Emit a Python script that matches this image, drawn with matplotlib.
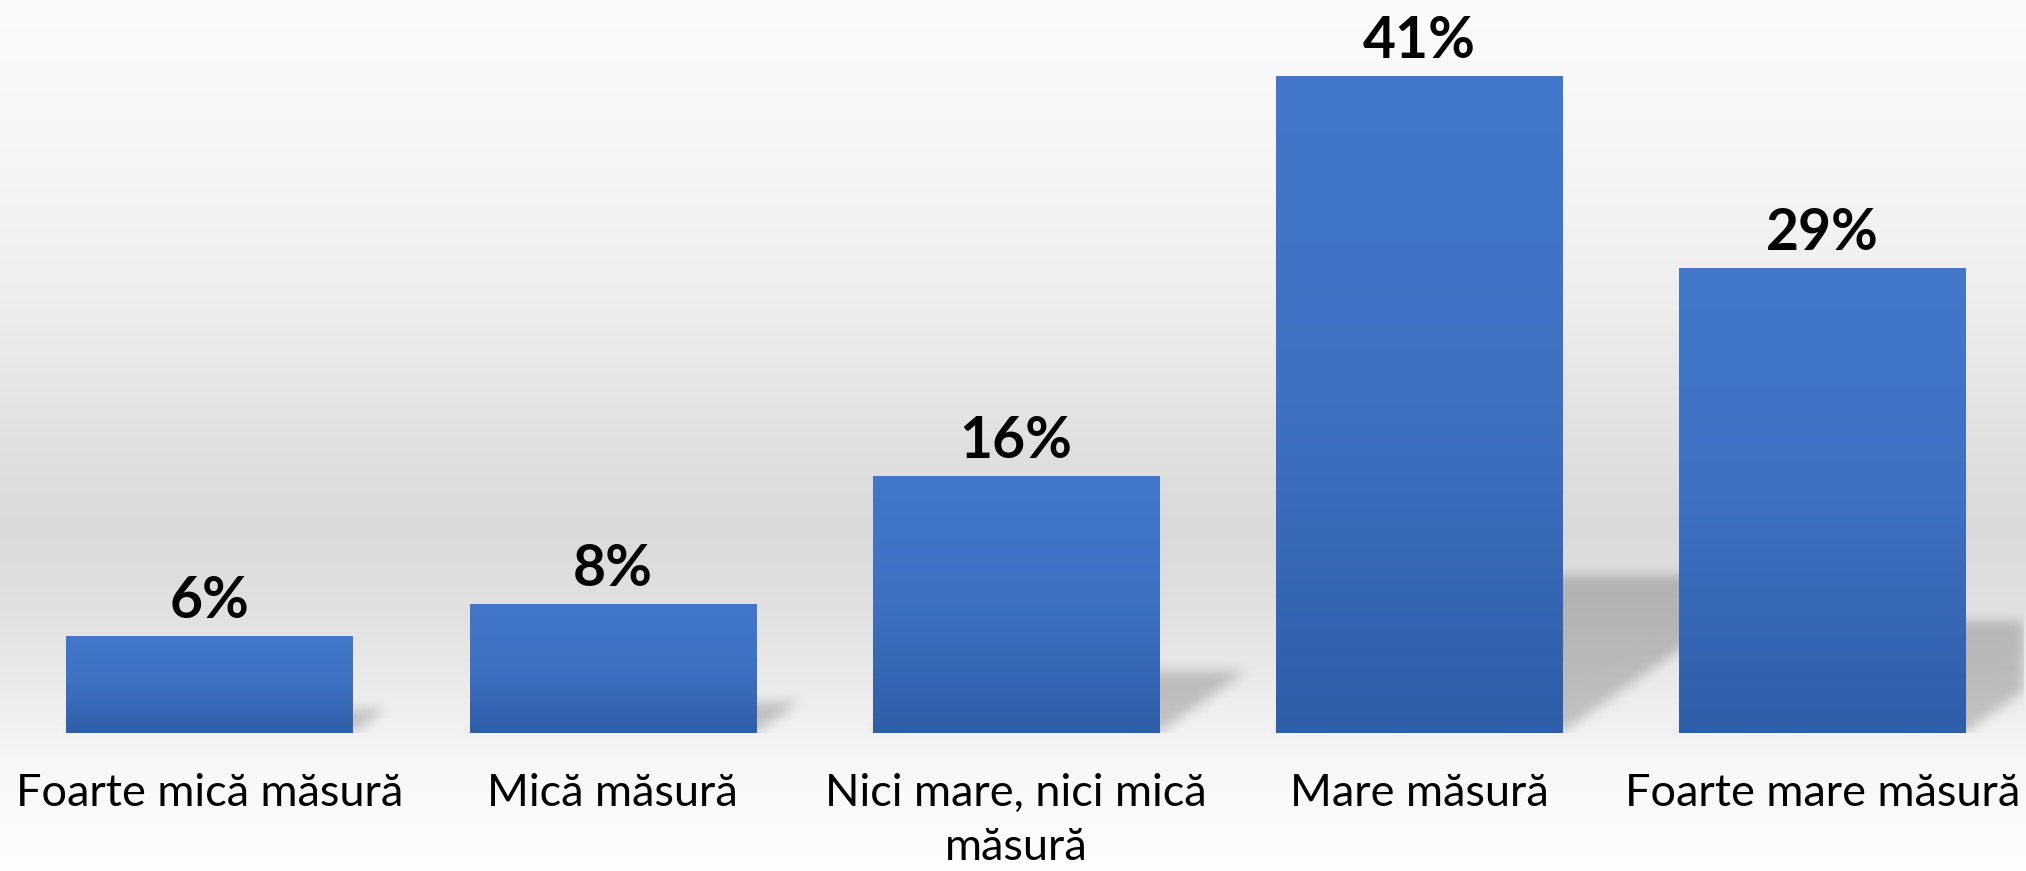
import numpy as np
import matplotlib
matplotlib.use("Agg")
import matplotlib.pyplot as plt

# data
categories = ["Foarte mică măsură", "Mică măsură", "Nici mare, nici mică\nmăsură",
              "Mare măsură", "Foarte mare măsură"]
values = [6, 8, 16, 41, 29]
value_labels = ["6%", "8%", "16%", "41%", "29%"]

W, H, DPI = 2026, 871, 100
fig = plt.figure(figsize=(W / DPI, H / DPI), dpi=DPI)

# background gradient (light - gray band - light)
bg = fig.add_axes([0, 0, 1, 1], zorder=-10)
stops_y = [0, 150, 300, 450, 530, 620, 733, 760, 871]
stops_v = [251, 246, 238, 224, 218, 226, 242, 247, 254]
yy = np.arange(H)
g = np.interp(yy, stops_y, stops_v) / 255.0
bg.imshow(np.repeat(g[:, None, None], 3, axis=2), aspect="auto", extent=(0, 1, 0, 1),
          origin="upper")
bg.set_axis_off()

# main axes
left_px, right_px, bottom_px, top_px = 8, 2024, 138, 13
ax = fig.add_axes([left_px / W, bottom_px / H, (right_px - left_px) / W,
                   (H - bottom_px - top_px) / H])
ax.set_facecolor("none")
xlim = (-0.5, len(values) - 0.5)
ylim = (0, 45)

bar_w = 0.71
x = np.arange(len(values))
bars = ax.bar(x, values, width=bar_w, color="#3d6ebf", zorder=3)

# soft perspective shadows behind bars
nx = right_px - left_px
ny = H - bottom_px - top_px
xs = np.linspace(xlim[0], xlim[1], nx)
ys = np.linspace(ylim[0], ylim[1], ny)
X, Y = np.meshgrid(xs, ys)
ppx = nx / (xlim[1] - xlim[0])
ppy = ny / (ylim[1] - ylim[0])
mask = np.zeros_like(X)
for b in bars:
    v = b.get_height()
    dy = 0.24 * v
    dx = 0.34 * v * ppy / ppx
    t = Y / dy
    inside = (Y <= dy) & (X >= b.get_x() + t * dx) & (X <= b.get_x() + b.get_width() + t * dx)
    mask = np.maximum(mask, inside.astype(float))

sig = 6
kx = np.arange(-3 * sig, 3 * sig + 1)
k = np.exp(-kx ** 2 / (2 * sig ** 2))
k /= k.sum()
mask = np.apply_along_axis(lambda r: np.convolve(r, k, mode="same"), 1, mask)
mask = np.apply_along_axis(lambda c: np.convolve(c, k, mode="same"), 0, mask)
shadow = np.zeros((ny, nx, 4))
shadow[..., 3] = 0.2 * mask
ax.imshow(shadow, extent=(xlim[0], xlim[1], ylim[0], ylim[1]), origin="lower",
          aspect="auto", zorder=1, interpolation="bilinear")

# bar gradient fill
top_c = np.array([66, 119, 202]) / 255
mid_c = np.array([63, 113, 194]) / 255
bot_c = np.array([47, 94, 168]) / 255
n = 256
tt = np.linspace(0, 1, n)  # 0 bottom, 1 top
grad = np.array([np.interp(tt, [0, 0.5, 1], [bot_c[i], mid_c[i], top_c[i]]) for i in range(3)]).T
grad_img = grad[:, None, :]
for b in bars:
    ax.imshow(grad_img, extent=(b.get_x(), b.get_x() + b.get_width(), 0, b.get_height()),
              origin="lower", aspect="auto", zorder=4)

# value labels
for b, lab in zip(bars, value_labels):
    ax.annotate(lab, (b.get_x() + b.get_width() / 2, b.get_height()),
                xytext=(0, 14), textcoords="offset points", ha="center", va="baseline",
                fontsize=41, fontweight="bold", family="Lato", color="black", zorder=6)

# category labels
for xi, cat in zip(x, categories):
    ax.annotate(cat, (xi, 0), xytext=(0, -29), textcoords="offset points",
                ha="center", va="top", fontsize=32.5, family="Lato", color="black",
                linespacing=1.4, annotation_clip=False)

ax.set_xlim(*xlim)
ax.set_ylim(*ylim)
ax.set_axis_off()

fig.savefig("out.png", dpi=DPI)
